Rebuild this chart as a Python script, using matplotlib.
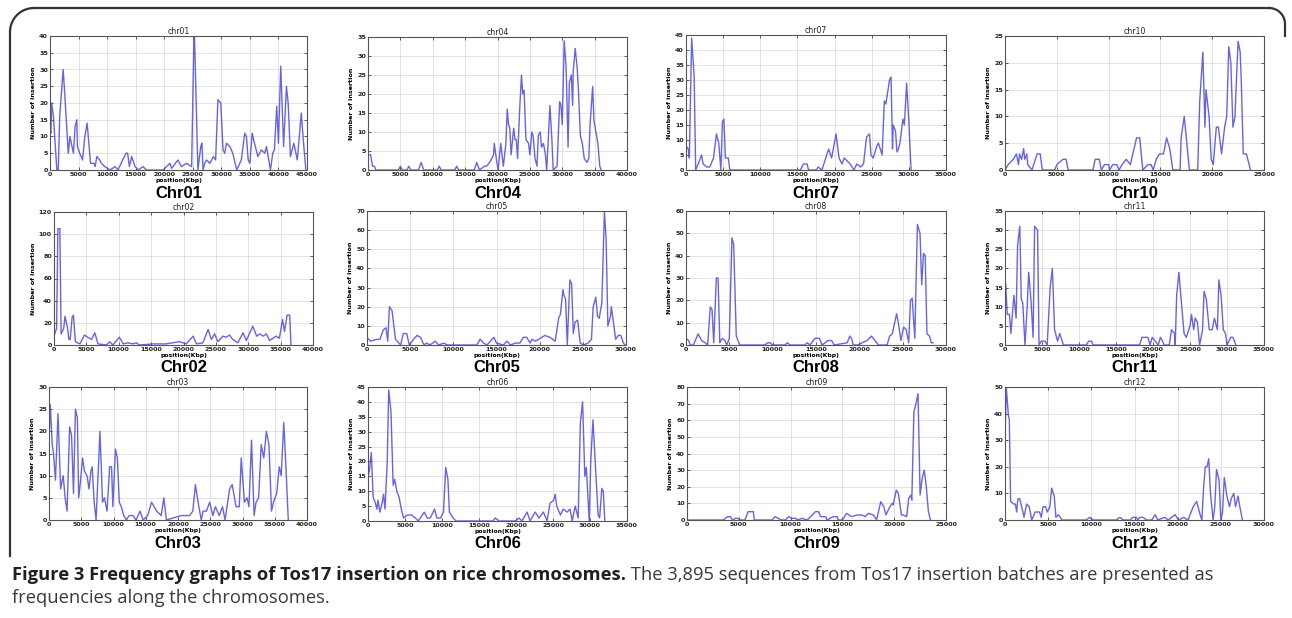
import numpy as np
import matplotlib.pyplot as plt

W, H = 1292, 618

# insertion counts per chromosome, position in Kbp
chr01_pos = [0, 150, 300, 600, 1200, 1450, 1700, 2300, 2500, 3200, 3500, 4100, 4400, 4700, 4800, 5200, 5700,
             6100, 6500, 6700, 7100, 7700, 7900, 8200, 8700, 9000, 9600, 10500, 11400, 11900, 13300, 13600,
             13900, 14300, 14900, 15400, 16300, 16900, 19800, 20400, 21000, 21300, 22400, 23000, 23900, 24800,
             25200, 25300, 25900, 26400, 26600, 26800, 27100, 27400, 28000, 28600, 29000, 29400, 29900, 30300,
             30600, 30900, 31500, 32000, 32700, 33500, 34100, 34400, 34700, 35000, 35400, 35800, 36400, 37000,
             37600, 37900, 38600, 39000, 39300, 39700, 40000, 40400, 40900, 41400, 41700, 42100, 42700, 43300,
             44000, 44300, 44800]
chr01_count = [12, 11, 20, 16, 0, 0, 16, 30, 25, 5, 10, 5, 13, 15, 7, 5, 3,
               10, 14, 10, 2, 2, 1, 4, 3, 2, 1, 0, 1, 0, 5, 5,
               1, 4, 1, 0, 1, 0, 0, 1, 2, 0.5, 3, 1, 2, 1,
               40, 40, 0, 7, 8, 0, 2, 3, 2, 4, 3, 21, 20, 6,
               5, 8, 7, 5, 0, 3, 11, 10, 3, 2, 11, 8, 4, 6,
               5, 7, 0, 5, 6, 19, 8, 31, 7, 25, 20, 4, 8, 3,
               17, 10, 0]

chr04_pos = [0, 400, 700, 1000, 1200, 4700, 5000, 5300, 6000, 6300, 6600, 7800, 8200, 8600, 10700, 11000, 11300,
             13400, 13700, 14000, 16400, 16800, 17200, 18000, 18300, 18800, 19400, 19500, 19900, 20100, 20500,
             20900, 21300, 21500, 21700, 21900, 22100, 22500, 22700, 22900, 23100, 23400, 23700, 23900, 24100,
             24400, 24800, 25000, 25300, 25500, 25800, 26100, 26300, 26600, 26800, 27100, 27400, 27600, 27900,
             28100, 28400, 28600, 29200, 29600, 29800, 30000, 30300, 30600, 30900, 31100, 31400, 31600, 31700,
             32000, 32300, 32500, 32800, 33100, 33400, 33800, 34100, 34300, 34700, 34900, 35200, 35500, 35800,
             36000]
chr04_count = [4, 4, 1, 1, 0, 0, 1, 0, 0, 1, 0, 0, 2, 0, 0, 1, 0,
               0, 1, 0, 0, 2, 0, 1, 1, 2, 4, 7, 2, 0, 7,
               1, 7, 16, 12, 11, 4, 11, 8, 8, 3, 15, 25, 20, 21,
               8, 7, 4, 10, 9, 3, 1, 9, 10, 6, 7, 4, 0, 10,
               17, 8, 0, 1, 18, 17, 12, 34, 27, 6, 23, 25, 17, 26,
               32, 27, 21, 9, 7, 3, 2, 3, 12, 22, 13, 10, 7, 1,
               0]

chr07_pos = [0, 300, 450, 760, 1000, 1100, 1300, 1800, 2100, 2300, 2800, 3200, 3700, 4100, 4400, 4700, 4900,
             5100, 5300, 5700, 5900, 15400, 15800, 16300, 16500, 17500, 17800, 18300, 19200, 19600, 20200,
             20600, 21000, 21300, 21700, 22100, 22600, 23000, 23500, 23900, 24300, 24700, 24900, 25200, 25700,
             25900, 26400, 26700, 26900, 27400, 27600, 27800, 27900, 28200, 28400, 28600, 28800, 29200, 29400,
             29700, 30000, 30300]
chr07_count = [8, 7, 4, 44, 35, 31, 0, 3, 5, 2, 1, 1, 4, 12, 9, 0, 16,
               17, 4, 4, 0, 0, 2, 2, 0, 0, 1, 0, 7, 4, 12,
               4, 2, 4, 3, 2, 0, 2, 1, 2, 11, 12, 5, 4, 8,
               9, 5, 23, 22, 30, 31, 7, 15, 13, 6, 7, 9, 17, 15,
               29, 16, 0]

chr10_pos = [0, 300, 800, 1100, 1300, 1400, 1600, 1800, 1900, 2100, 2200, 2600, 3100, 3400, 3600, 4800, 5000,
             5600, 5900, 6100, 8500, 8700, 9100, 9300, 9600, 10000, 10100, 10400, 10800, 11000, 11300, 11700,
             12100, 12700, 13000, 13300, 13800, 14100, 14300, 14600, 14900, 15300, 15600, 15900, 16200, 16900,
             17000, 17300, 17600, 17800, 18600, 18800, 19100, 19300, 19400, 19700, 19900, 20100, 20400, 20600,
             20900, 21200, 21400, 21600, 21800, 22000, 22200, 22300, 22500, 22700, 22800, 23000, 23300, 23700]
chr10_count = [0, 1, 2, 3, 1, 3, 2, 4, 2, 3, 1, 0, 3, 3, 0, 0, 1,
               2, 2, 0, 0, 2, 2, 0, 1, 1, 0, 1, 1, 0, 1, 2,
               1, 6, 6, 0, 1, 1, 0, 2, 3, 3, 6, 4, 0, 0,
               6, 10, 4, 0, 0, 13, 22, 8, 15, 10, 2, 1, 8, 8,
               3, 8, 10, 23, 20, 8, 10, 15, 24, 22, 17, 3, 3, 0]

chr02_pos = [0, 400, 600, 900, 1100, 1500, 1700, 2100, 2300, 2500, 2800, 3000, 3300, 4000, 4700, 5200, 5800,
             6300, 6800, 8100, 8600, 9100, 10100, 10700, 11400, 12200, 12700, 13200, 15300, 17300, 19400,
             20400, 21500, 22000, 23000, 23800, 24300, 24800, 25300, 26100, 26600, 27100, 27600, 28400, 29200,
             29700, 30700, 31300, 31800, 32300, 32800, 33300, 34300, 34800, 35300, 35600, 36000, 36400, 36600]
chr02_count = [8, 15, 105, 105, 10, 15, 26, 15, 5, 5, 25, 27, 3, 1, 9, 7, 5,
               11, 1, 0, 3, 0, 7, 1, 2, 1, 2, 0, 1, 1, 3,
               1, 8, 1, 2, 14, 5, 10, 3, 8, 7, 9, 5, 2, 11,
               4, 17, 8, 10, 8, 10, 4, 8, 6, 23, 12, 27, 27, 0]

chr05_pos = [0, 400, 1200, 1500, 1900, 2200, 2400, 2600, 2900, 3300, 3900, 4200, 4600, 4900, 5400, 5800, 6200,
             6600, 6900, 7300, 7900, 8300, 8900, 9300, 12700, 13100, 13500, 13900, 14700, 15000, 15800, 16200,
             16600, 17200, 17700, 18100, 18500, 18900, 19100, 19500, 19900, 20600, 21200, 21800, 22200, 22400,
             22700, 22800, 23000, 23200, 23300, 23500, 23700, 23900, 24100, 24400, 24700, 25100, 25600, 26000,
             26200, 26500, 26700, 26900, 27200, 27500, 27700, 27900, 28200, 28300, 28600, 28800, 29100, 29400,
             29700, 29900]
chr05_count = [4, 2, 3, 3, 8, 9, 2, 20, 18, 3, 0, 6, 6, 0, 3, 5, 4,
               0, 1, 0, 2, 0, 1, 0, 0, 3, 1, 0, 4, 1, 0, 2,
               0, 1, 1, 4, 4, 1, 3, 2, 3, 5, 4, 2, 14, 16,
               29, 26, 24, 0, 12, 34, 32, 6, 12, 13, 1, 0, 1, 3,
               20, 25, 15, 14, 22, 70, 55, 10, 15, 20, 10, 3, 5, 5,
               1, 0]

chr08_pos = [0, 300, 500, 850, 1400, 1800, 2200, 2500, 2800, 3000, 3200, 3500, 3700, 3900, 4200, 4500, 4700,
             5000, 5300, 5500, 5800, 6200, 9100, 9400, 9700, 10000, 11400, 11700, 12000, 13700, 14000, 14300,
             14900, 15400, 15700, 16400, 16800, 17100, 18600, 18900, 19100, 19300, 19900, 20300, 20900, 21400,
             21800, 22200, 23200, 23500, 23800, 24300, 24500, 24800, 25100, 25400, 25700, 25900, 26100, 26400,
             26700, 27000, 27200, 27400, 27600, 27800, 28100, 28300, 28500]
chr08_count = [3, 2, 0, 0, 5, 2, 1, 0, 17, 16, 1, 30, 30, 1, 3, 2, 0,
               3, 48, 45, 4, 0, 0, 1, 1, 0, 0, 1, 0, 0, 1, 0,
               3, 3, 0, 2, 2, 0, 1, 4, 3, 0, 0, 1, 2, 4,
               2, 0, 0, 4, 5, 14, 10, 2, 8, 7, 1, 20, 21, 3,
               54, 50, 27, 41, 40, 5, 4, 1, 1]

chr11_pos = [0, 100, 300, 600, 800, 1200, 1500, 1700, 2000, 2200, 2400, 2700, 3000, 3200, 3500, 3800, 4000,
             4400, 4600, 4900, 5400, 5700, 6100, 6400, 6700, 7100, 7400, 7900, 11000, 11300, 11700, 11900,
             18200, 18500, 19300, 19600, 19900, 20300, 20700, 21000, 21300, 21500, 22200, 22500, 22900, 23000,
             23200, 23500, 23800, 24200, 24500, 25000, 25200, 25500, 25700, 26000, 26300, 26700, 26900, 27200,
             27600, 28000, 28300, 28700, 28900, 29200, 29500, 29800, 30000, 30500, 30800, 31200]
chr11_count = [10, 16, 8, 8, 3, 13, 7, 26, 31, 12, 11, 0, 10, 19, 12, 2, 31,
               30, 0, 1, 1, 0, 15, 20, 4, 1, 3, 0, 0, 1, 1, 0,
               0, 2, 2, 0, 2, 1, 0, 2, 1, 0, 0, 4, 3, 0,
               13, 19, 12, 3, 2, 5, 8, 4, 7, 6, 0, 4, 14, 12,
               4, 4, 7, 4, 17, 13, 4, 3, 0, 2, 2, 0]

chr03_pos = [0, 200, 500, 700, 1000, 1400, 1800, 2200, 2500, 2800, 3200, 3500, 3800, 4100, 4400, 4600, 4900,
             5200, 5500, 5900, 6200, 6500, 6700, 7000, 7300, 7900, 8300, 8600, 9000, 9400, 9700, 9900, 10300,
             10600, 10900, 11200, 11600, 12000, 12400, 13000, 13500, 14100, 14600, 15300, 15900, 16300, 16700,
             17400, 17800, 18200, 20500, 21800, 22300, 22700, 23000, 23600, 23900, 24400, 24900, 25400, 25800,
             26400, 26900, 27300, 28000, 28400, 29000, 29500, 29800, 30300, 30700, 31000, 31400, 31800, 32100,
             32500, 32900, 33300, 33700, 34100, 34500, 34800, 35300, 35700, 36000, 36400, 36700, 37100]
chr03_count = [18, 26, 17, 15, 9, 24, 7, 10, 5, 2, 21, 19, 6, 25, 23, 5, 9,
               14, 11, 10, 7, 11, 12, 4, 0, 20, 4, 5, 2, 12, 12, 3, 16,
               14, 4, 3, 1, 0, 1, 1, 0, 2, 0, 1, 4, 3, 2,
               1, 5, 0, 1, 1, 2, 8, 5, 0, 2, 2, 4, 1, 3,
               1, 3, 0, 7, 8, 3, 3, 14, 4, 5, 3, 18, 1, 4,
               5, 17, 14, 20, 17, 2, 4, 6, 12, 10, 22, 13, 0]

chr06_pos = [0, 200, 450, 700, 1000, 1200, 1350, 1600, 1900, 2100, 2300, 2600, 2800, 3100, 3400, 3600, 3900,
             4200, 4500, 4800, 5300, 5900, 6400, 6800, 7600, 8000, 8400, 9000, 9300, 9800, 10200, 10500, 10800,
             11000, 11500, 11900, 16900, 17200, 17700, 19900, 20400, 20800, 21500, 21900, 22600, 23100, 23700,
             24200, 24600, 25100, 25300, 25500, 26000, 26400, 26900, 27300, 27600, 28000, 28400, 28700, 29000,
             29300, 29500, 29700, 29900, 30100, 30400, 30700, 31100, 31300, 31600, 31800, 32000]
chr06_count = [15, 17, 23, 8, 6, 4, 7, 3, 6, 9, 4, 20, 44, 37, 12, 14, 10,
               8, 4, 1, 2, 2, 1, 0, 3, 1, 1, 4, 1, 1, 3, 18, 14,
               3, 1, 0, 0, 1, 0, 0, 1, 0, 3, 0, 3, 1, 3,
               0, 6, 7, 9, 5, 2, 4, 3, 4, 0, 5, 1, 33, 40,
               15, 18, 9, 0, 20, 34, 20, 2, 1, 11, 10, 0]

chr09_pos = [0, 3500, 3900, 4200, 4400, 4700, 4900, 5100, 5600, 5900, 6400, 6500, 8200, 8500, 8800, 9100, 9500,
             9800, 10100, 10500, 10700, 11100, 11600, 12100, 12400, 12700, 12900, 13400, 13500, 14100, 14500,
             14600, 15000, 15400, 15900, 16400, 16900, 17200, 17500, 18000, 18300, 18700, 19000, 19200, 19500,
             19800, 19900, 20200, 20400, 20700, 20900, 21200, 21400, 21600, 21700, 21900, 22100, 22300, 22500,
             22700, 22900, 23100, 23300, 23500]
chr09_count = [0, 0, 2, 2, 0, 1, 1, 0, 0, 5, 5, 0, 0, 2, 1, 0, 0,
               2, 1, 1, 0, 1, 0, 3, 5, 5, 2, 2, 0, 2, 2,
               0, 0, 4, 2, 3, 3, 2, 4, 3, 0, 11, 8, 3, 7,
               10, 9, 18, 16, 3, 3, 2, 13, 15, 12, 65, 70, 76, 15,
               25, 30, 20, 5, 0]

chr12_pos = [0, 150, 400, 500, 650, 1000, 1200, 1350, 1500, 1700, 2000, 2200, 2500, 2800, 3100, 3500, 4000,
             4200, 4400, 4700, 4900, 5200, 5400, 5700, 5900, 6200, 6600, 9400, 9800, 10200, 12900, 13300,
             13700, 14500, 14800, 15200, 15400, 15600, 16000, 16400, 17000, 17400, 17700, 18500, 18900, 19300,
             19700, 20100, 20700, 21200, 21800, 22200, 22600, 22800, 23000, 23200, 23400, 23600, 23800, 24100,
             24300, 24500, 24800, 25000, 25200, 25400, 25700, 26000, 26200, 26500, 26700, 27000, 27200, 27500]
chr12_count = [30, 50, 39, 38, 7, 6, 6, 3, 8, 8, 4, 1, 6, 5, 0, 3, 3,
               1, 5, 5, 3, 5, 12, 9, 1, 2, 0, 0, 1, 0, 0, 1,
               0, 0, 1, 1, 0, 1, 1, 0, 0, 2, 0, 1, 0, 1,
               2, 0, 1, 0, 5, 7, 2, 0, 12, 20, 20, 23, 10, 0,
               5, 19, 15, 0, 3, 16, 9, 5, 8, 10, 5, 9, 5, 0]

names = ['chr01', 'chr04', 'chr07', 'chr10',
         'chr02', 'chr05', 'chr08', 'chr11',
         'chr03', 'chr06', 'chr09', 'chr12']
series = {
    'chr01': (chr01_pos, chr01_count), 'chr04': (chr04_pos, chr04_count),
    'chr07': (chr07_pos, chr07_count), 'chr10': (chr10_pos, chr10_count),
    'chr02': (chr02_pos, chr02_count), 'chr05': (chr05_pos, chr05_count),
    'chr08': (chr08_pos, chr08_count), 'chr11': (chr11_pos, chr11_count),
    'chr03': (chr03_pos, chr03_count), 'chr06': (chr06_pos, chr06_count),
    'chr09': (chr09_pos, chr09_count), 'chr12': (chr12_pos, chr12_count),
}
x_max = [45000, 40000, 35000, 25000, 40000, 30000, 30000, 35000, 40000, 35000, 25000, 30000]
y_max = [40, 35, 45, 25, 120, 70, 60, 35, 30, 45, 80, 50]
y_step = [5, 5, 5, 5, 20, 10, 10, 5, 5, 5, 10, 10]

caption_bold = "Figure 3 Frequency graphs of Tos17 insertion on rice chromosomes."
caption_rest = " The 3,895 sequences from Tos17 insertion batches are presented as"
caption_line2 = "frequencies along the chromosomes."

# axes boxes in pixels: left, top, right, bottom
boxes = [(50, 36, 307, 170), (368, 37, 627, 170), (686, 35, 946, 170), (1005, 36, 1264, 170),
         (54, 212, 313, 345), (367, 211, 626, 345), (686, 211, 946, 345), (1005, 211, 1264, 345),
         (49, 387, 307, 520), (368, 387, 627, 521), (687, 387, 946, 520), (1005, 387, 1264, 520)]


def px_box(l, t, r, b):
    return [l / W, 1 - b / H, (r - l) / W, (b - t) / H]


fig = plt.figure(figsize=(W / 100, H / 100), dpi=100)

# frame around the panels, drawn in pixel coordinates
frame = fig.add_axes([0, 0, 1, 1])
frame.set_xlim(0, W)
frame.set_ylim(H, 0)
frame.axis('off')
t = np.linspace(0, np.pi / 2, 30)
r1 = 24
lx = 10 + r1 - r1 * np.cos(t)
ly = 8 + r1 - r1 * np.sin(t)
frame.plot(np.r_[10, lx], np.r_[556, ly], color='#333333', lw=1.6)
r2 = 16
rx = 1285 - r2 + r2 * np.cos(t)
ry = 8 + r2 - r2 * np.sin(t)
frame.plot([lx[-1], rx[-1]], [8, 8], color='#333333', lw=1.6)
frame.plot(np.r_[1285, rx], np.r_[36, ry], color='#333333', lw=1.6)

tick_font = dict(fontsize=4.6, fontweight='bold', family='DejaVu Sans')

for i, name in enumerate(names):
    l, tp, r, b = boxes[i]
    ax = fig.add_axes(px_box(l, tp, r, b))
    pos, cnt = series[name]
    ax.plot(pos, cnt, color='#4a4ae0', lw=1.0, alpha=0.85)
    ax.set_xlim(0, x_max[i])
    ax.set_ylim(0, y_max[i])
    xt = np.arange(0, x_max[i] + 1, 5000)
    yt = np.arange(0, y_max[i] + 1, y_step[i])
    ax.set_xticks(xt)
    ax.set_yticks(yt)
    ax.set_xticklabels([str(v) for v in xt], **tick_font)
    ax.set_yticklabels([str(v) for v in yt], **tick_font)
    ax.tick_params(direction='in', length=2.5, width=0.5, pad=1.5, top=True, right=True, colors='#222222')
    ax.grid(True, color='#d8d8d8', lw=0.5, ls='-')
    for s in ax.spines.values():
        s.set_color('#555555')
        s.set_linewidth(0.8)
    ax.set_title(name, fontsize=5.6, pad=1.5, family='DejaVu Sans', color='#222222')
    ax.set_ylabel('Number of insertion', fontsize=4.6, fontweight='bold', labelpad=2, family='DejaVu Sans')
    ax.set_xlabel('position(Kbp)', fontsize=4.4, fontweight='bold', labelpad=0.5, family='DejaVu Sans')
    # big chromosome label under each panel
    fig.text((l + r) / 2 / W, 1 - (b + 23) / H, 'Chr' + name[3:], ha='center', va='center',
             fontsize=12, fontweight='bold', family='Liberation Sans', color='black')

# caption
renderer = fig.canvas.get_renderer()
t1 = fig.text(12 / W, 1 - 575 / H, caption_bold, ha='left', va='center', fontsize=13.2,
              fontweight='bold', family='Open Sans', color='#231f20')
bb = t1.get_window_extent(renderer)
fig.text(bb.x1 / W, 1 - 575 / H, caption_rest, ha='left', va='center', fontsize=13.2,
         family='Open Sans', color='#3a3a3a')
fig.text(12 / W, 1 - 598 / H, caption_line2, ha='left', va='center', fontsize=13.2,
         family='Open Sans', color='#3a3a3a')

fig.savefig('out.png', dpi=100)
